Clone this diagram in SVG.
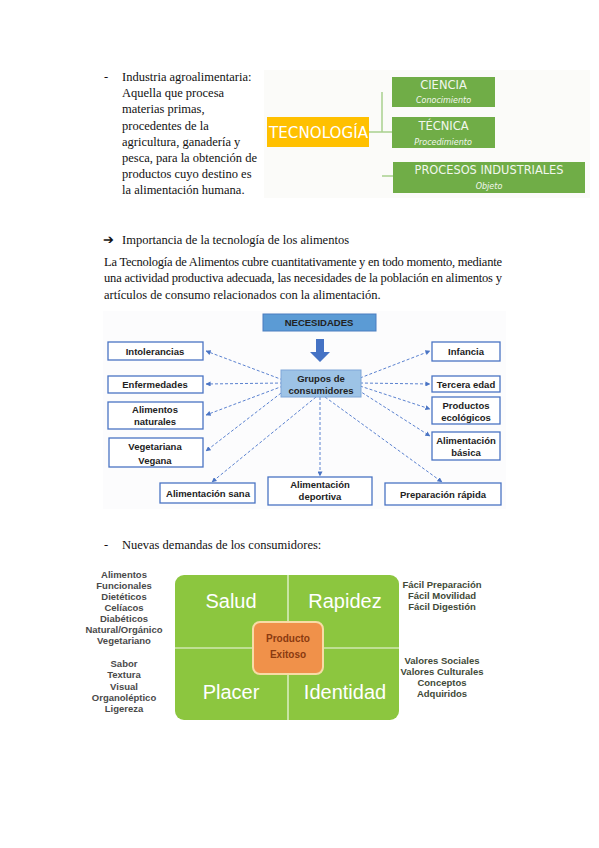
<svg xmlns="http://www.w3.org/2000/svg" width="599" height="848" viewBox="0 0 599 848">
<defs>
<style>
.body{font-family:"Liberation Serif","Times New Roman",serif;font-size:12.5px;fill:#111}
.g{fill:#70ad47}
.gt{font-family:"DejaVu Sans",sans-serif;fill:#f2f7ee;text-anchor:middle}
.bx{fill:#fff;stroke:#4a74c4;stroke-width:1.3}
.bt{font-family:"Liberation Sans",Arial,sans-serif;font-weight:bold;font-size:9.5px;fill:#222;text-anchor:middle}
.dash{stroke:#5b82d0;stroke-width:1;stroke-dasharray:3,2;fill:none;marker-end:url(#ah)}
.q{font-family:"Liberation Sans",Arial,sans-serif;font-size:20px;fill:#fff;text-anchor:middle}
.lt{font-family:"Liberation Sans",Arial,sans-serif;font-weight:bold;font-size:9.5px;fill:#4a4a4a;text-anchor:middle}
.rt{font-family:"Liberation Sans",Arial,sans-serif;font-weight:bold;font-size:9.5px;fill:#3f4a38;text-anchor:middle}
</style>
<marker id="ah" viewBox="0 0 6 6" refX="5.5" refY="3" markerWidth="5" markerHeight="5" orient="auto">
<path d="M0,0 L6,3 L0,6 z" fill="#4a74c4"/>
</marker>
</defs>
<rect width="599" height="848" fill="#fff"/>

<g id="intro">
<text class="body" x="104" y="81">-</text>
<text class="body" x="122" y="81">Industria agroalimentaria:</text>
<text class="body" x="122" y="97">Aquella que procesa</text>
<text class="body" x="122" y="113">materias primas,</text>
<text class="body" x="122" y="130">procedentes de la</text>
<text class="body" x="122" y="146">agricultura, ganadería y</text>
<text class="body" x="122" y="162">pesca, para la obtención de</text>
<text class="body" x="122" y="178">productos cuyo destino es</text>
<text class="body" x="122" y="194">la alimentación humana.</text>
</g>

<rect x="264" y="70" width="326" height="128" fill="#fbfbf9"/>
<g id="tech-connectors" stroke="#a9d18e" stroke-width="1.5" fill="none">
<path d="M369,132 H392 M382,92 V132"/>
<path d="M382,176 H393"/>
</g>
<g id="tecnologia">
<rect x="267" y="117" width="102" height="30" fill="#ffc000"/>
<text x="269" y="138" font-family="'DejaVu Sans',sans-serif" font-size="15.2" fill="#fff" textLength="99" lengthAdjust="spacingAndGlyphs">TECNOLOGÍA</text>
</g>
<g id="ciencia">
<rect class="g" x="392" y="77" width="103" height="30"/>
<text class="gt" x="443.5" y="89" font-size="11.5">CIENCIA</text>
<text class="gt" x="443.5" y="103" font-size="8" font-style="italic">Conocimiento</text>
</g>
<g id="tecnica">
<rect class="g" x="392" y="117" width="103" height="31"/>
<text class="gt" x="443.5" y="130" font-size="11.5">TÉCNICA</text>
<text class="gt" x="443" y="145" font-size="8" font-style="italic">Procedimiento</text>
</g>
<g id="procesos">
<rect class="g" x="393" y="162" width="192" height="31"/>
<text class="gt" x="489" y="174" font-size="11.4">PROCESOS INDUSTRIALES</text>
<text class="gt" x="489" y="189" font-size="8" font-style="italic">Objeto</text>
</g>

<g id="section2">
<text class="body" x="103" y="244" font-family="'DejaVu Sans',sans-serif" font-size="12">➔</text>
<text class="body" x="122" y="244">Importancia de la tecnología de los alimentos</text>
<text class="body" x="104" y="266" textLength="398" lengthAdjust="spacing">La Tecnología de Alimentos cubre cuantitativamente y en todo momento, mediante</text>
<text class="body" x="104" y="282" textLength="398" lengthAdjust="spacing">una actividad productiva adecuada, las necesidades de la población en alimentos y</text>
<text class="body" x="104" y="299">artículos de consumo relacionados con la alimentación.</text>
</g>

<rect x="103" y="311" width="403" height="198" fill="#fcfcfd"/>
<g id="connectors">
<line class="dash" x1="283" y1="380" x2="206" y2="351"/>
<line class="dash" x1="283" y1="383" x2="206" y2="384"/>
<line class="dash" x1="283" y1="386" x2="206" y2="415"/>
<line class="dash" x1="285" y1="390" x2="206" y2="451"/>
<line class="dash" x1="316" y1="397" x2="212" y2="482"/>
<line class="dash" x1="320" y1="397" x2="320" y2="476"/>
<line class="dash" x1="325" y1="397" x2="442" y2="482"/>
<line class="dash" x1="360" y1="378" x2="430" y2="351"/>
<line class="dash" x1="360" y1="383" x2="430" y2="384"/>
<line class="dash" x1="360" y1="386" x2="430" y2="409"/>
<line class="dash" x1="358" y1="390" x2="430" y2="436"/>
<path d="M316,339 H324 V352 H330 L320,362 L310,352 H316 Z" fill="#4472c4"/>
</g>
<g id="necesidades">
<rect x="263" y="314" width="113" height="17" fill="#5b9bd5" stroke="#4a7cc0" stroke-width="1"/>
<text class="bt" x="319" y="326" font-size="8">NECESIDADES</text>
</g>
<g id="grupos">
<rect x="281" y="370" width="80" height="27" fill="#9dc3e6" stroke="#7ea6d8" stroke-width="1"/>
<text class="bt" x="321" y="382" font-size="10">Grupos de</text>
<text class="bt" x="321" y="394" font-size="10">consumidores</text>
</g>
<g id="intolerancias"><rect class="bx" x="108" y="342" width="95" height="18"/><text class="bt" x="155" y="355">Intolerancias</text></g>
<g id="enfermedades"><rect class="bx" x="108" y="376" width="95" height="17"/><text class="bt" x="155" y="388">Enfermedades</text></g>
<g id="alimentos-naturales"><rect class="bx" x="108" y="402" width="95" height="27"/><text class="bt" x="155" y="413">Alimentos</text><text class="bt" x="155" y="425">naturales</text></g>
<g id="vegetariana"><rect class="bx" x="109" y="438" width="94" height="29"/><text class="bt" x="155" y="450">Vegetariana</text><text class="bt" x="155" y="464">Vegana</text></g>
<g id="alimentacion-sana"><rect class="bx" x="160" y="483" width="95" height="20"/><text class="bt" x="208" y="497">Alimentación sana</text></g>
<g id="alimentacion-deportiva"><rect class="bx" x="268" y="477" width="104" height="28"/><text class="bt" x="320" y="488">Alimentación</text><text class="bt" x="320" y="500">deportiva</text></g>
<g id="preparacion-rapida"><rect class="bx" x="385" y="483" width="116" height="22"/><text class="bt" x="443" y="498">Preparación rápida</text></g>
<g id="infancia"><rect class="bx" x="432" y="342" width="68" height="19"/><text class="bt" x="466" y="355">Infancia</text></g>
<g id="tercera-edad"><rect class="bx" x="432" y="376" width="68" height="16"/><text class="bt" x="466" y="388">Tercera edad</text></g>
<g id="productos-ecologicos"><rect class="bx" x="432" y="397" width="68" height="27"/><text class="bt" x="466" y="409">Productos</text><text class="bt" x="466" y="421">ecológicos</text></g>
<g id="alimentacion-basica"><rect class="bx" x="432" y="432" width="68" height="28"/><text class="bt" x="466" y="444">Alimentación</text><text class="bt" x="466" y="456">básica</text></g>

<g id="section3">
<text class="body" x="104" y="549">-</text>
<text class="body" x="122" y="549">Nuevas demandas de los consumidores:</text>
</g>

<g id="cuadro">
<rect x="175" y="575" width="224" height="145" rx="9" fill="#8cc63f"/>
<line x1="288" y1="575" x2="288" y2="720" stroke="#f2f8e8" stroke-width="1.2"/>
<line x1="175" y1="648" x2="399" y2="648" stroke="#f2f8e8" stroke-width="1.2"/>
<text class="q" x="231" y="608">Salud</text>
<text class="q" x="345" y="608">Rapidez</text>
<text class="q" x="231" y="699">Placer</text>
<text class="q" x="345" y="699">Identidad</text>
</g>
<g id="producto-exitoso">
<rect x="253" y="622" width="70" height="52" rx="7" fill="#f0914a" stroke="#f7dca6" stroke-width="2"/>
<text x="288" y="642" font-family="'Liberation Sans',Arial,sans-serif" font-weight="bold" font-size="10" fill="#8a3a10" text-anchor="middle">Producto</text>
<text x="288" y="658" font-family="'Liberation Sans',Arial,sans-serif" font-weight="bold" font-size="10" fill="#8a3a10" text-anchor="middle">Exitoso</text>
</g>
<g id="lista-izquierda">
<text class="lt" x="124" y="578">Alimentos</text>
<text class="lt" x="124" y="589">Funcionales</text>
<text class="lt" x="124" y="600">Dietéticos</text>
<text class="lt" x="124" y="611">Celíacos</text>
<text class="lt" x="124" y="622">Diabéticos</text>
<text class="lt" x="124" y="633">Natural/Orgánico</text>
<text class="lt" x="124" y="644">Vegetariano</text>
<text class="lt" x="124" y="667">Sabor</text>
<text class="lt" x="124" y="678">Textura</text>
<text class="lt" x="124" y="690">Visual</text>
<text class="lt" x="124" y="701">Organoléptico</text>
<text class="lt" x="124" y="712">Ligereza</text>
</g>
<g id="lista-derecha">
<text class="rt" x="442" y="588">Fácil Preparación</text>
<text class="rt" x="442" y="599">Fácil Movilidad</text>
<text class="rt" x="442" y="610">Fácil Digestión</text>
<text class="rt" x="442" y="664">Valores Sociales</text>
<text class="rt" x="442" y="675">Valores Culturales</text>
<text class="rt" x="442" y="686">Conceptos</text>
<text class="rt" x="442" y="697">Adquiridos</text>
</g>
</svg>
